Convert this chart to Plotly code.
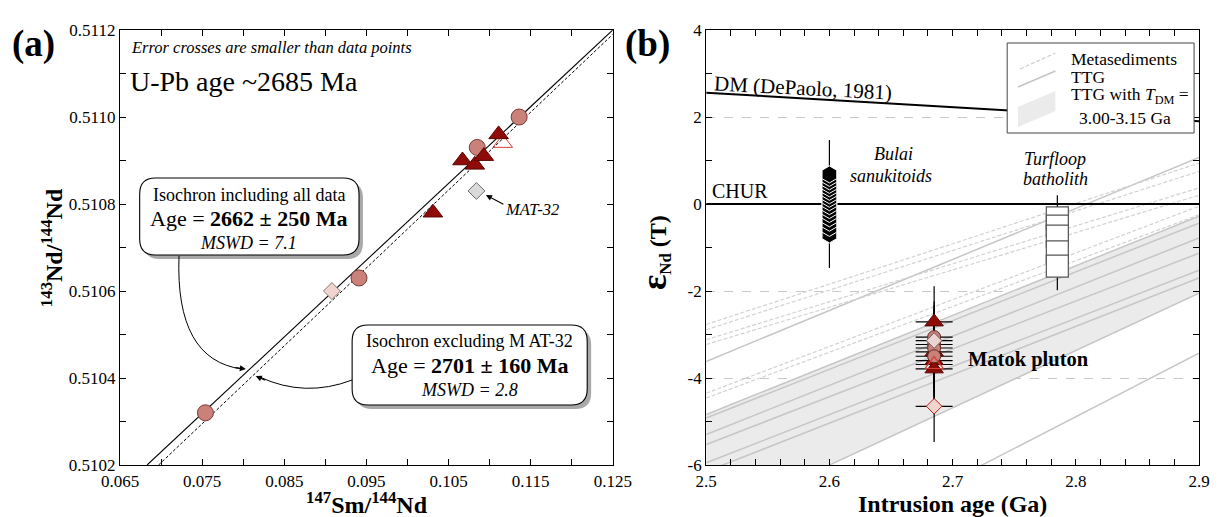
import plotly.graph_objects as go

FONT = "Liberation Serif"

# ---------------- Panel (a) data: 147Sm/144Nd vs 143Nd/144Nd ----------------
circ_x = [0.0754, 0.0941, 0.1085, 0.1136]
circ_y = [0.51032, 0.51063, 0.51093, 0.51100]
tri_x = [0.1031, 0.1067, 0.1082, 0.1093, 0.1111]
tri_y = [0.51078, 0.51090, 0.51089, 0.51091, 0.51096]
open_tri_x = [0.1116]
open_tri_y = [0.51094]
pink_dia_x = [0.0908]
pink_dia_y = [0.51060]
mat32_x = [0.1084]
mat32_y = [0.51083]
iso_all_x = [0.0683, 0.125]
iso_all_y = [0.51020, 0.51120]
iso_excl_x = [0.0697, 0.125]
iso_excl_y = [0.51020, 0.51119]

# ---------------- Panel (b) data: epsilon Nd vs intrusion age ----------------
age_ends = [2.5, 2.9]
ttg_start = [-3.62, -4.84, -4.92, -5.30, -5.53, -5.95, -6.15, -7.32, -9.27]
ttg_end = [1.07, -0.28, -0.44, -0.78, -1.13, -1.52, -1.70, -2.05, -3.43]
meta_start = [-2.77, -2.89, -3.12, -3.23, -4.35, -4.46]
meta_end = [0.94, 0.75, 0.37, 0.20, -0.05, -0.25]
band_top = [-4.84, -0.28]
band_bottom = [-7.32, -2.05]
dm_age = [2.5, 2.6, 2.7, 2.8, 2.9]
dm_eps = [2.56, 2.39, 2.22, 2.06, 1.90]
chur_eps = [0, 0]

bulai_age = 2.60
bulai_eps = [-0.70, -0.55, -0.43, -0.33, -0.23, -0.14, -0.05, 0.04,
             0.12, 0.20, 0.28, 0.36, 0.44, 0.52, 0.60, 0.68]
bulai_range = [-1.47, 1.47]

turf_age = 2.785
turf_eps = [-0.32, -0.51, -0.74, -1.10, -1.43]
turf_range = [0.20, -1.98]

matok_age = 2.685
matok_tri = [-2.71, -3.40, -3.60, -3.79]
matok_circ = [-3.06, -3.23, -3.31, -3.50]
matok_open_tri = [-3.69]
matok_dia_grey = [-3.14]
matok_dia_pink = [-4.65]
matok_err_age = 0.015
matok_err_eps = 0.82

yb_tickvals = [-6, -4, -2, 0, 2, 4]
yb_ticktext = ["-6", "-4", "-2", "0", "2", "4"]

# ---------------- layout geometry helpers ----------------
W, H = 1222, 517
ML, MR, MT, MB = 112, 13, 22, 60
PW = W - ML - MR
PH = H - MT - MB


def X(px):
    return (px - ML) / PW


def Y(py):
    return (H - MB - py) / PH


def rbox_path(x0, y0, x1, y1, r):
    segs = [("M", [(x0 + r, y0)]), ("L", [(x1 - r, y0)]),
            ("Q", [(x1, y0), (x1, y0 + r)]), ("L", [(x1, y1 - r)]),
            ("Q", [(x1, y1), (x1 - r, y1)]), ("L", [(x0 + r, y1)]),
            ("Q", [(x0, y1), (x0, y1 - r)]), ("L", [(x0, y0 + r)]),
            ("Q", [(x0, y0), (x0 + r, y0)])]
    s = ""
    for cmd, pts in segs:
        s += cmd + " ".join(f"{X(a):.5f},{Y(b):.5f}" for a, b in pts) + " "
    return s + "Z"


def pix_path(cmds):
    s = ""
    for cmd, pts in cmds:
        s += cmd + " ".join(f"{X(a):.5f},{Y(b):.5f}" for a, b in pts) + " "
    return s.strip()


def ann(text, px, py, size, xanchor="center", yanchor="middle", **kw):
    d = dict(text=text, x=X(px), y=Y(py), xref="paper", yref="paper",
             showarrow=False, xanchor=xanchor, yanchor=yanchor,
             font=dict(family=FONT, size=size, color="black"))
    d.update(kw)
    return d


def arrow(px, py, ax, ay):
    return dict(text="", x=X(px), y=Y(py), xref="paper", yref="paper",
                showarrow=True, ax=ax, ay=ay, arrowhead=2, arrowsize=1.1,
                arrowwidth=1.1, arrowcolor="black", standoff=0)


fig = go.Figure()

# ---------------- Panel (a) traces ----------------
fig.add_trace(go.Scatter(x=iso_excl_x, y=iso_excl_y, mode="lines",
                         line=dict(color="black", width=1, dash="3px,2px"),
                         xaxis="x", yaxis="y", showlegend=False))
fig.add_trace(go.Scatter(x=iso_all_x, y=iso_all_y, mode="lines",
                         line=dict(color="black", width=1.1),
                         xaxis="x", yaxis="y", showlegend=False))
fig.add_trace(go.Scatter(x=pink_dia_x, y=pink_dia_y, mode="markers",
                         marker=dict(symbol="diamond", size=13, color="#f2d4cf",
                                     line=dict(color="#8a7a78", width=1)),
                         xaxis="x", yaxis="y", showlegend=False))
fig.add_trace(go.Scatter(x=mat32_x, y=mat32_y, mode="markers",
                         marker=dict(symbol="diamond", size=13, color="#d9d9d9",
                                     line=dict(color="#6e6e6e", width=1)),
                         xaxis="x", yaxis="y", showlegend=False))
fig.add_trace(go.Scatter(x=circ_x, y=circ_y, mode="markers",
                         marker=dict(symbol="circle", size=16, color="#c9817a",
                                     line=dict(color="#7a3b36", width=1)),
                         xaxis="x", yaxis="y", showlegend=False))
fig.add_trace(go.Scatter(x=open_tri_x, y=open_tri_y, mode="markers",
                         marker=dict(symbol="triangle-up", size=17, color="rgba(255,255,255,0)",
                                     line=dict(color="#d0413a", width=1)),
                         xaxis="x", yaxis="y", showlegend=False))
fig.add_trace(go.Scatter(x=tri_x, y=tri_y, mode="markers",
                         marker=dict(symbol="triangle-up", size=17, color="#8e0b07",
                                     line=dict(color="#5a0604", width=1)),
                         xaxis="x", yaxis="y", showlegend=False))

# ---------------- Panel (b) traces ----------------
fig.add_trace(go.Scatter(x=[age_ends[0], age_ends[1], age_ends[1], age_ends[0]],
                         y=[band_top[0], band_top[1], band_bottom[1], band_bottom[0]],
                         mode="lines", fill="toself", fillcolor="#ebebeb",
                         line=dict(width=0), xaxis="x2", yaxis="y2", showlegend=False))
tx, ty = [], []
for a, b in zip(ttg_start, ttg_end):
    tx += [age_ends[0], age_ends[1], None]
    ty += [a, b, None]
fig.add_trace(go.Scatter(x=tx, y=ty, mode="lines",
                         line=dict(color="#c6c6c6", width=1.5),
                         xaxis="x2", yaxis="y2", showlegend=False))
mx, my = [], []
for a, b in zip(meta_start, meta_end):
    mx += [age_ends[0], age_ends[1], None]
    my += [a, b, None]
fig.add_trace(go.Scatter(x=mx, y=my, mode="lines",
                         line=dict(color="#d2d2d2", width=1.2, dash="4px,2px"),
                         xaxis="x2", yaxis="y2", showlegend=False))
fig.add_trace(go.Scatter(x=age_ends, y=chur_eps, mode="lines",
                         line=dict(color="black", width=2.2),
                         xaxis="x2", yaxis="y2", showlegend=False))
fig.add_trace(go.Scatter(x=dm_age, y=dm_eps, mode="lines",
                         line=dict(color="black", width=2),
                         xaxis="x2", yaxis="y2", showlegend=False))
# Bulai
fig.add_trace(go.Scatter(x=[bulai_age, bulai_age], y=bulai_range, mode="lines",
                         line=dict(color="black", width=1.2),
                         xaxis="x2", yaxis="y2", showlegend=False))
fig.add_trace(go.Scatter(x=[bulai_age] * len(bulai_eps), y=bulai_eps, mode="markers",
                         marker=dict(symbol="hexagon", size=17, color="black",
                                     line=dict(color="white", width=1)),
                         xaxis="x2", yaxis="y2", showlegend=False))
# Turfloop
fig.add_trace(go.Scatter(x=[turf_age, turf_age], y=turf_range, mode="lines",
                         line=dict(color="black", width=1.2),
                         xaxis="x2", yaxis="y2", showlegend=False))
fig.add_trace(go.Scatter(x=[turf_age] * len(turf_eps), y=turf_eps, mode="markers",
                         marker=dict(symbol="square", size=22, color="white",
                                     line=dict(color="#555555", width=1.2)),
                         xaxis="x2", yaxis="y2", showlegend=False))
# Matok error bars
all_matok = matok_tri + matok_circ + matok_open_tri + matok_dia_grey + matok_dia_pink
fig.add_trace(go.Scatter(x=[matok_age] * len(all_matok), y=all_matok, mode="markers",
                         marker=dict(size=1, color="rgba(0,0,0,0)"),
                         error_x=dict(type="constant", value=matok_err_age, color="black",
                                      thickness=1.2, width=0),
                         error_y=dict(type="constant", value=matok_err_eps, color="black",
                                      thickness=1.2, width=0),
                         xaxis="x2", yaxis="y2", showlegend=False))
fig.add_trace(go.Scatter(x=[matok_age] * len(matok_tri), y=matok_tri, mode="markers",
                         marker=dict(symbol="triangle-up", size=16, color="#8e0b07",
                                     line=dict(color="#5a0604", width=1)),
                         xaxis="x2", yaxis="y2", showlegend=False))
fig.add_trace(go.Scatter(x=[matok_age] * len(matok_circ), y=matok_circ, mode="markers",
                         marker=dict(symbol="circle", size=13, color="#c9817a",
                                     line=dict(color="#5e2a26", width=1)),
                         xaxis="x2", yaxis="y2", showlegend=False))
fig.add_trace(go.Scatter(x=[matok_age] * len(matok_open_tri), y=matok_open_tri, mode="markers",
                         marker=dict(symbol="triangle-up", size=16, color="rgba(255,255,255,0)",
                                     line=dict(color="#d0413a", width=1.2)),
                         xaxis="x2", yaxis="y2", showlegend=False))
fig.add_trace(go.Scatter(x=[matok_age] * len(matok_dia_grey), y=matok_dia_grey, mode="markers",
                         marker=dict(symbol="diamond", size=12, color="#ead3d0",
                                     line=dict(color="#6e5d5b", width=1)),
                         xaxis="x2", yaxis="y2", showlegend=False))
fig.add_trace(go.Scatter(x=[matok_age] * len(matok_dia_pink), y=matok_dia_pink, mode="markers",
                         marker=dict(symbol="diamond", size=12, color="#f2d4cf",
                                     line=dict(color="#b5211b", width=1)),
                         xaxis="x2", yaxis="y2", showlegend=False))

# ---------------- axes ----------------
tickfont = dict(family=FONT, size=17, color="black")
common = dict(ticks="inside", ticklen=6, tickwidth=1, tickcolor="black",
              showline=True, linecolor="black", linewidth=1.3, mirror="ticks",
              zeroline=False, tickfont=tickfont)

fig.update_layout(
    xaxis=dict(domain=[0, X(613)], range=[0.065, 0.125], tick0=0.065, dtick=0.01,
               tickformat=".3f", showgrid=False, anchor="y",
               minor=dict(ticks="inside", dtick=0.005, tick0=0.065, ticklen=6,
                          tickcolor="black", showgrid=False), **common),
    yaxis=dict(domain=[0, 1], range=[0.5102, 0.5112], tick0=0.5102, dtick=0.0002,
               tickformat=".4f", showgrid=False, anchor="x",
               minor=dict(ticks="inside", dtick=0.0001, tick0=0.5102, ticklen=6,
                          tickcolor="black", showgrid=False), **common),
    xaxis2=dict(domain=[X(708), 1], range=[2.5, 2.9], tick0=2.5, dtick=0.1,
                tickformat=".1f", showgrid=False, anchor="y2",
                minor=dict(ticks="inside", dtick=0.02, tick0=2.5, ticklen=6,
                           tickcolor="black", showgrid=False), **common),
    yaxis2=dict(domain=[0, 1], range=[-6, 4], tickvals=yb_tickvals, ticktext=yb_ticktext,
                showgrid=True, gridcolor="#c8c8c8", griddash="dash", gridwidth=0.8,
                anchor="x2",
                minor=dict(ticks="inside", dtick=1, tick0=0, ticklen=6,
                           tickcolor="black", showgrid=False), **common),
)

# ---------------- shapes ----------------
shapes = []
for (x0, y0, x1, y1) in [(132, 170, 355, 247), (348, 317, 587, 397)]:
    shapes.append(dict(type="path", xref="paper", yref="paper", layer="above",
                       path=rbox_path(x0 + 4, y0 + 4, x1 + 4, y1 + 4, 16),
                       fillcolor="#a9a9a9", line=dict(width=0)))
    shapes.append(dict(type="path", xref="paper", yref="paper", layer="above",
                       path=rbox_path(x0, y0, x1, y1, 16),
                       fillcolor="white", line=dict(color="black", width=1.1)))
shapes.append(dict(type="path", xref="paper", yref="paper", layer="above",
                   path=pix_path([("M", [(172, 248)]), ("Q", [(168, 352), (236, 361)])]),
                   line=dict(color="black", width=1)))
shapes.append(dict(type="path", xref="paper", yref="paper", layer="above",
                   path=pix_path([("M", [(348, 372)]), ("Q", [(300, 390), (254, 369)])]),
                   line=dict(color="black", width=1)))
shapes.append(dict(type="rect", xref="paper", yref="paper", layer="above",
                   x0=X(1014), x1=X(1204), y0=Y(125), y1=Y(35),
                   fillcolor="white", line=dict(color="#444444", width=1)))
shapes.append(dict(type="line", xref="paper", yref="paper", layer="above",
                   x0=X(1027), y0=Y(61), x1=X(1063), y1=Y(45),
                   line=dict(color="#cfcfcf", width=1.2, dash="4px,2px")))
shapes.append(dict(type="line", xref="paper", yref="paper", layer="above",
                   x0=X(1025), y0=Y(79), x1=X(1063), y1=Y(63),
                   line=dict(color="#c4c4c4", width=1.5)))
shapes.append(dict(type="path", xref="paper", yref="paper", layer="above",
                   path=pix_path([("M", [(1025, 99)]), ("L", [(1063, 83)]),
                                  ("L", [(1063, 103)]), ("L", [(1025, 119)])]) + " Z",
                   fillcolor="#ebebeb", line=dict(width=0)))

# ---------------- annotations ----------------
anns = [
    ann("<b>(a)</b>", 0, 36, 37, xanchor="left"),
    ann("<b>(b)</b>", 623, 36, 37, xanchor="left"),
    ann("<i>Error crosses are smaller than data points</i>", 121, 40, 16.5, xanchor="left"),
    ann("U-Pb age ~2685 Ma", 120, 73, 28, xanchor="left"),
    ann("Isochron including all data", 243, 187, 18),
    ann("Age = <b>2662 ± 250 Ma</b>", 243, 210, 22),
    ann("<i>MSWD = 7.1</i>", 243, 235, 18),
    ann("Isochron excluding M AT-32", 467, 333, 18),
    ann("Age = <b>2701 ± 160 Ma</b>", 467, 357, 22),
    ann("<i>MSWD = 2.8</i>", 467, 382, 18),
    ann("<i>MAT-32</i>", 531, 201, 16.5),
    arrow(240, 361, -12, -1.6),
    arrow(250, 368, 11, 5),
    arrow(484, 187, 19, 10),
    ann("<b><sup>147</sup>Sm/<sup>144</sup>Nd</b>", 363, 495, 24),
    ann("<b><sup>143</sup>Nd/<sup>144</sup>Nd</b>", 43, 240, 24, textangle=-90),
    ann("<b>Intrusion age (Ga)</b>", 958, 496, 24),
    ann("<b><span style='font-size:36px'>ε</span><sub>Nd</sub> (T)</b>", 655, 245, 24,
        textangle=-90),
    ann("DM (DePaolo, 1981)", 806, 80, 21, textangle=3),
    ann("CHUR", 742, 183, 20),
    ann("<i>Bulai</i>", 898, 146, 18),
    ann("<i>sanukitoids</i>", 896, 168, 18),
    ann("<i>Turfloop</i>", 1063, 151, 18),
    ann("<i>batholith</i>", 1063, 171, 18),
    ann("<b>Matok pluton</b>", 972, 351, 20.5, xanchor="left"),
    ann("Metasediments", 1077, 51, 17.5, xanchor="left"),
    ann("TTG", 1077, 69, 17.5, xanchor="left"),
    ann("TTG with <i>T</i><sub>DM</sub> =", 1077, 88, 17.5, xanchor="left"),
    ann("3.00-3.15 Ga", 1134, 110, 17.5),
]

fig.update_layout(
    width=W, height=H,
    margin=dict(l=ML, r=MR, t=MT, b=MB),
    paper_bgcolor="white", plot_bgcolor="white",
    showlegend=False,
    font=dict(family=FONT, color="black"),
    shapes=shapes, annotations=anns,
)

fig.write_html("out.html")
